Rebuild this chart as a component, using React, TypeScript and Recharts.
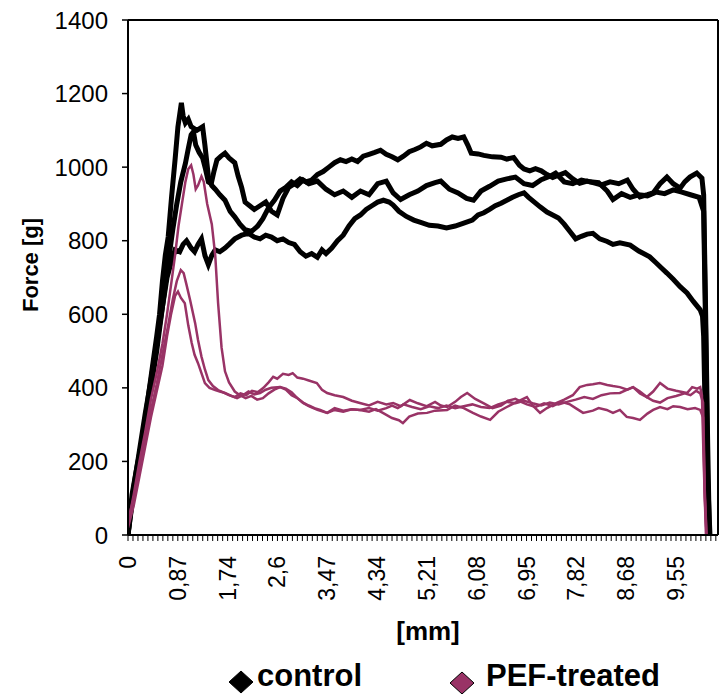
import React from 'react';
import { LineChart, Line, XAxis, YAxis, ReferenceLine } from 'recharts';

// [mm, g] readings for each compression curve
const CONTROL_A = [
  [0, 0], [0.07, 110], [0.15, 180], [0.25, 260], [0.33, 350], [0.41, 440], [0.5, 540], [0.55, 600],
  [0.6, 690], [0.65, 760], [0.7, 810], [0.76, 920], [0.82, 1020], [0.87, 1110], [0.93, 1175], [0.96, 1140],
  [1.0, 1120], [1.05, 1130], [1.1, 1110], [1.2, 1100], [1.3, 1110], [1.34, 1060], [1.4, 975], [1.46, 950],
  [1.52, 940], [1.6, 925], [1.69, 910], [1.78, 880], [1.86, 865], [1.95, 845], [2.04, 830], [2.15, 825],
  [2.26, 840], [2.35, 860], [2.45, 890], [2.55, 910], [2.65, 935], [2.75, 945], [2.85, 960], [2.95, 950],
  [3.05, 965], [3.15, 955], [3.3, 962], [3.45, 940], [3.6, 925], [3.75, 935], [3.9, 918], [4.05, 935],
  [4.2, 925], [4.35, 955], [4.5, 962], [4.62, 930], [4.75, 912], [4.9, 925], [5.05, 935], [5.2, 950],
  [5.35, 958], [5.45, 962], [5.6, 940], [5.75, 930], [5.9, 915], [6.02, 910], [6.15, 935], [6.3, 948],
  [6.45, 962], [6.6, 968], [6.75, 973], [6.9, 955], [7.05, 950], [7.2, 966], [7.35, 975], [7.45, 984],
  [7.6, 960], [7.75, 955], [7.9, 965], [8.05, 960], [8.2, 958], [8.35, 935], [8.45, 912], [8.6, 928],
  [8.75, 918], [8.9, 925], [9.05, 922], [9.2, 932], [9.35, 928], [9.5, 938], [9.65, 932], [9.8, 925],
  [9.95, 918], [10.03, 880], [10.07, 500], [10.1, 150], [10.14, 0],
];

const CONTROL_B = [
  [0, 0], [0.1, 120], [0.2, 210], [0.3, 300], [0.4, 400], [0.5, 500], [0.6, 620], [0.7, 740],
  [0.78, 830], [0.85, 900], [0.92, 960], [1.0, 1010], [1.05, 1050], [1.1, 1088], [1.14, 1096], [1.18, 1060],
  [1.24, 1040], [1.3, 1025], [1.35, 995], [1.4, 960], [1.45, 955], [1.5, 990], [1.55, 1020], [1.62, 1030],
  [1.69, 1038], [1.76, 1025], [1.86, 1012], [1.92, 975], [1.98, 945], [2.04, 905], [2.12, 895], [2.2, 885],
  [2.3, 895], [2.4, 905], [2.5, 880], [2.6, 870], [2.7, 915], [2.8, 945], [2.9, 955], [3.0, 968],
  [3.1, 960], [3.2, 965], [3.3, 980], [3.4, 988], [3.5, 1000], [3.6, 1012], [3.7, 1020], [3.8, 1015],
  [3.9, 1022], [4.0, 1015], [4.1, 1030], [4.2, 1035], [4.3, 1040], [4.4, 1046], [4.5, 1035], [4.6, 1028],
  [4.7, 1020], [4.8, 1030], [4.9, 1042], [5.0, 1048], [5.1, 1055], [5.2, 1065], [5.3, 1058], [5.45, 1062],
  [5.55, 1074], [5.65, 1082], [5.75, 1078], [5.85, 1082], [5.92, 1060], [5.98, 1038], [6.1, 1036], [6.2, 1032],
  [6.35, 1028], [6.5, 1027], [6.6, 1022], [6.72, 1026], [6.82, 1005], [6.9, 995], [7.0, 990], [7.1, 996],
  [7.2, 990], [7.3, 980], [7.4, 972], [7.5, 978], [7.62, 985], [7.75, 968], [7.87, 956], [8.0, 962],
  [8.1, 958], [8.25, 952], [8.4, 960], [8.55, 955], [8.7, 965], [8.8, 940], [8.92, 919], [9.05, 925],
  [9.15, 930], [9.27, 955], [9.39, 973], [9.5, 955], [9.62, 943], [9.7, 960], [9.79, 973], [9.91, 984],
  [10.0, 970], [10.03, 925], [10.06, 650], [10.1, 250], [10.13, 0],
];

const CONTROL_C = [
  [0, 0], [0.1, 130], [0.2, 230], [0.3, 330], [0.4, 420], [0.5, 520], [0.6, 620], [0.68, 700],
  [0.75, 740], [0.82, 775], [0.9, 770], [0.96, 790], [1.02, 800], [1.1, 780], [1.16, 770], [1.22, 790],
  [1.28, 805], [1.34, 760], [1.4, 735], [1.46, 760], [1.52, 775], [1.6, 770], [1.69, 780], [1.76, 790],
  [1.86, 805], [1.98, 815], [2.1, 820], [2.2, 810], [2.3, 805], [2.4, 815], [2.5, 810], [2.6, 800],
  [2.7, 805], [2.8, 795], [2.9, 790], [3.0, 770], [3.1, 758], [3.2, 765], [3.3, 755], [3.38, 775],
  [3.45, 765], [3.55, 780], [3.65, 800], [3.75, 815], [3.85, 840], [3.95, 860], [4.05, 870], [4.15, 885],
  [4.25, 895], [4.35, 905], [4.45, 910], [4.55, 905], [4.62, 897], [4.72, 880], [4.85, 866], [4.98, 856],
  [5.1, 850], [5.25, 842], [5.4, 840], [5.55, 835], [5.7, 840], [5.85, 848], [6.0, 856], [6.1, 870],
  [6.2, 876], [6.3, 885], [6.4, 895], [6.5, 902], [6.6, 910], [6.7, 918], [6.8, 925], [6.9, 930],
  [6.98, 918], [7.08, 905], [7.18, 892], [7.3, 878], [7.4, 870], [7.5, 862], [7.6, 845], [7.7, 825],
  [7.8, 805], [7.9, 812], [8.0, 818], [8.1, 820], [8.22, 805], [8.35, 798], [8.45, 790], [8.57, 794],
  [8.75, 788], [8.9, 772], [9.09, 756], [9.2, 740], [9.3, 725], [9.39, 712], [9.5, 695], [9.62, 675],
  [9.74, 658], [9.85, 635], [9.97, 612], [10.01, 595], [10.03, 540], [10.06, 300], [10.1, 80], [10.13, 0],
];

const PEF_1 = [
  [0, 30], [0.1, 110], [0.2, 200], [0.3, 280], [0.4, 370], [0.5, 440], [0.6, 520], [0.68, 600],
  [0.75, 680], [0.82, 760], [0.88, 840], [0.94, 900], [1.0, 960], [1.05, 995], [1.1, 1005], [1.14, 980],
  [1.18, 940], [1.22, 950], [1.28, 975], [1.32, 960], [1.38, 900], [1.46, 845], [1.52, 760], [1.57, 630],
  [1.63, 510], [1.69, 445], [1.76, 415], [1.86, 390], [1.95, 380], [2.05, 372], [2.15, 378], [2.25, 368],
  [2.35, 372], [2.45, 385], [2.55, 395], [2.65, 402], [2.75, 398], [2.85, 388], [2.95, 372], [3.05, 360],
  [3.15, 352], [3.25, 345], [3.35, 340], [3.47, 332], [3.6, 345], [3.75, 338], [3.9, 342], [4.04, 340],
  [4.2, 335], [4.32, 342], [4.44, 332], [4.6, 318], [4.72, 312], [4.79, 304], [4.9, 322], [5.05, 330],
  [5.21, 332], [5.35, 338], [5.56, 340], [5.7, 352], [5.85, 345], [6.01, 332], [6.15, 322], [6.31, 313],
  [6.45, 335], [6.6, 348], [6.75, 360], [6.95, 375], [7.05, 352], [7.18, 332], [7.3, 345], [7.47, 359],
  [7.6, 368], [7.75, 380], [7.87, 402], [8.0, 408], [8.1, 410], [8.22, 413], [8.35, 408], [8.45, 405],
  [8.57, 402], [8.7, 395], [8.8, 402], [8.92, 390], [9.04, 375], [9.15, 390], [9.27, 413], [9.4, 398],
  [9.55, 392], [9.74, 386], [9.83, 402], [9.92, 398], [9.97, 402], [10.0, 380], [10.03, 200], [10.07, 0],
];

const PEF_2 = [
  [0, 40], [0.1, 100], [0.2, 180], [0.3, 260], [0.4, 340], [0.5, 410], [0.6, 490], [0.7, 570],
  [0.78, 640], [0.85, 690], [0.92, 720], [0.97, 712], [1.02, 680], [1.08, 640], [1.17, 576], [1.22, 530],
  [1.28, 485], [1.34, 450], [1.4, 421], [1.48, 405], [1.57, 394], [1.66, 388], [1.76, 380], [1.86, 375],
  [1.96, 385], [2.06, 380], [2.16, 392], [2.26, 388], [2.36, 400], [2.45, 415], [2.53, 430], [2.6, 425],
  [2.7, 438], [2.8, 435], [2.87, 440], [2.95, 428], [3.05, 425], [3.15, 420], [3.29, 413], [3.38, 395],
  [3.47, 386], [3.6, 380], [3.75, 375], [3.9, 365], [4.04, 359], [4.2, 352], [4.35, 362], [4.5, 355],
  [4.62, 359], [4.75, 350], [4.91, 367], [5.05, 358], [5.2, 350], [5.35, 362], [5.45, 352], [5.56, 348],
  [5.7, 362], [5.8, 375], [5.91, 386], [6.05, 370], [6.2, 358], [6.35, 345], [6.5, 352], [6.62, 365],
  [6.75, 370], [6.85, 362], [6.95, 355], [7.1, 348], [7.25, 358], [7.4, 350], [7.55, 362], [7.7, 355],
  [7.8, 345], [7.93, 332], [8.1, 338], [8.2, 345], [8.34, 340], [8.45, 332], [8.57, 340], [8.69, 321],
  [8.8, 318], [8.92, 313], [9.05, 330], [9.15, 340], [9.27, 348], [9.4, 342], [9.5, 350], [9.62, 348],
  [9.75, 342], [9.88, 345], [9.97, 340], [10.02, 320], [10.05, 100], [10.08, 0],
];

const PEF_3 = [
  [0, 20], [0.1, 80], [0.2, 160], [0.3, 240], [0.4, 320], [0.5, 390], [0.6, 460], [0.68, 540],
  [0.75, 600], [0.82, 650], [0.87, 662], [0.92, 645], [0.99, 630], [1.05, 570], [1.11, 522], [1.16, 490],
  [1.22, 467], [1.28, 440], [1.34, 413], [1.42, 400], [1.52, 394], [1.6, 390], [1.69, 386], [1.8, 378],
  [1.9, 372], [2.0, 380], [2.1, 390], [2.2, 382], [2.3, 386], [2.4, 395], [2.5, 400], [2.65, 402],
  [2.75, 395], [2.85, 380], [2.95, 372], [3.05, 359], [3.15, 350], [3.3, 340], [3.47, 332], [3.6, 340],
  [3.75, 335], [3.9, 342], [4.04, 340], [4.2, 345], [4.35, 338], [4.5, 345], [4.6, 352], [4.7, 345],
  [4.8, 355], [4.95, 348], [5.1, 342], [5.25, 350], [5.4, 345], [5.55, 352], [5.7, 345], [5.85, 350],
  [6.0, 355], [6.15, 348], [6.3, 345], [6.45, 355], [6.6, 362], [6.75, 358], [6.9, 365], [7.05, 358],
  [7.2, 352], [7.35, 360], [7.5, 355], [7.65, 362], [7.8, 368], [7.95, 375], [8.1, 370], [8.25, 380],
  [8.4, 385], [8.57, 386], [8.7, 395], [8.8, 402], [8.92, 385], [9.04, 375], [9.15, 365], [9.27, 360],
  [9.4, 372], [9.55, 378], [9.7, 385], [9.8, 380], [9.9, 392], [9.97, 385], [10.02, 360], [10.05, 120],
  [10.08, 0],
];

const Y_TICKS = [0, 200, 400, 600, 800, 1000, 1200, 1400];
const X_LABELS = ['0', '0,87', '1,74', '2,6', '3,47', '4,34', '5,21', '6,08', '6,95', '7,82', '8,68', '9,55'];
const X_STEP = 0.0868; // minor tick spacing, a label every 10 ticks
const X_MAX = 10.28;
const X_TICKS = Array.from({ length: Math.floor(X_MAX / X_STEP) + 1 }, (_, i) => i * X_STEP);

const CONTROL_COLOR = '#000000';
const PEF_COLOR = '#993366';
const LEGEND = [
  { name: 'control', color: CONTROL_COLOR },
  { name: 'PEF-treated', color: PEF_COLOR },
];

const FONT = '"Liberation Sans", Arial, sans-serif';

const toPoints = (rows: number[][]) => rows.map(([x, y]) => ({ x, y }));

const XTick = (props: any) => {
  const { x, y, payload } = props;
  const i = Math.round(payload.value / X_STEP);
  if (i % 10 !== 0 || !X_LABELS[i / 10]) return <g />;
  return (
    <text
      x={x}
      y={y}
      transform={`rotate(-90, ${x}, ${y})`}
      textAnchor="end"
      dominantBaseline="central"
      fontSize={23}
      fontFamily={FONT}
      fill="#000"
    >
      {X_LABELS[i / 10]}
    </text>
  );
};

const Diamond = ({ cx, cy, fill }: { cx: number; cy: number; fill: string }) => (
  <polygon
    points={`${cx},${cy - 11} ${cx + 12},${cy} ${cx},${cy + 11} ${cx - 12},${cy}`}
    fill={fill}
    stroke="#000"
    strokeWidth={1}
  />
);

export default function App() {
  const controls = [CONTROL_A, CONTROL_B, CONTROL_C];
  const pefs = [PEF_1, PEF_2, PEF_3];
  const legendPos = [
    { cx: 241, cy: 682, tx: 257 },
    { cx: 462, cy: 683, tx: 486 },
  ];

  return (
    <div style={{ position: 'absolute', left: 0, top: 0, width: 721, height: 694, background: '#fff' }}>
      <LineChart
        width={721}
        height={694}
        margin={{ top: 20, right: 3, left: 0, bottom: 99 }}
        style={{ fontFamily: FONT }}
      >
        <XAxis
          dataKey="x"
          type="number"
          domain={[0, X_MAX]}
          ticks={X_TICKS}
          interval={0}
          height={60}
          tickSize={6}
          tickMargin={15}
          tick={<XTick />}
          axisLine={{ stroke: '#000', strokeWidth: 2 }}
          tickLine={{ stroke: '#000', strokeWidth: 1 }}
          allowDataOverflow
          label={{
            content: () => (
              <text x={428} y={640} textAnchor="middle" fontSize={26} fontWeight="bold" fontFamily={FONT} fill="#000">
                [mm]
              </text>
            ),
          }}
        />
        <YAxis
          type="number"
          domain={[0, 1400]}
          ticks={Y_TICKS}
          interval={0}
          width={128}
          tickSize={6}
          tickMargin={14}
          tick={{ fontSize: 24, fill: '#000', fontFamily: FONT }}
          axisLine={{ stroke: '#000', strokeWidth: 2 }}
          tickLine={{ stroke: '#000', strokeWidth: 1.5 }}
          label={{
            content: () => (
              <text
                x={38}
                y={265}
                transform="rotate(-90, 38, 265)"
                textAnchor="middle"
                fontSize={22}
                fontWeight="bold"
                fontFamily={FONT}
                fill="#000"
              >
                Force [g]
              </text>
            ),
          }}
        />
        <ReferenceLine y={1400} stroke="#000" strokeWidth={2} />
        <ReferenceLine x={X_MAX} stroke="#000" strokeWidth={2} />
        {controls.map((rows, i) => (
          <Line
            key={`control-${i}`}
            data={toPoints(rows)}
            dataKey="y"
            type="linear"
            stroke={CONTROL_COLOR}
            strokeWidth={5}
            strokeLinejoin="miter"
            dot={false}
            activeDot={false}
            isAnimationActive={false}
          />
        ))}
        {pefs.map((rows, i) => (
          <Line
            key={`pef-${i}`}
            data={toPoints(rows)}
            dataKey="y"
            type="linear"
            stroke={PEF_COLOR}
            strokeWidth={2.5}
            dot={false}
            activeDot={false}
            isAnimationActive={false}
          />
        ))}
      </LineChart>
      <svg width={721} height={694} style={{ position: 'absolute', left: 0, top: 0, pointerEvents: 'none' }}>
        {LEGEND.map((item, i) => (
          <g key={item.name}>
            <Diamond cx={legendPos[i].cx} cy={legendPos[i].cy} fill={item.color} />
            <text x={legendPos[i].tx} y={686} fontSize={31} fontWeight="bold" fontFamily={FONT} fill="#000">
              {item.name}
            </text>
          </g>
        ))}
      </svg>
    </div>
  );
}
